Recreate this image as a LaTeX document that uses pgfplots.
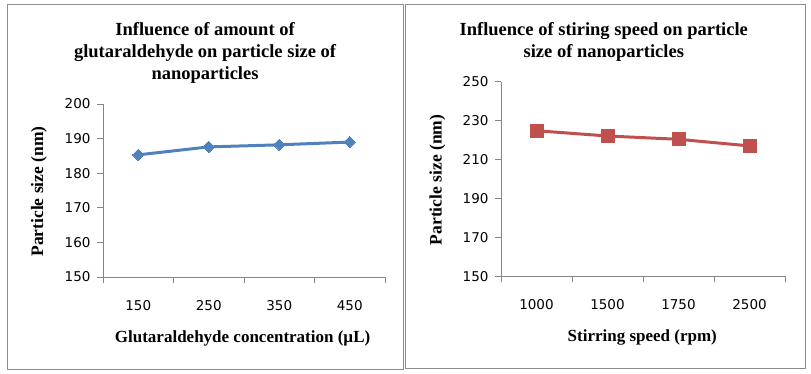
\documentclass[border=0pt]{standalone}
\usepackage{pgfplots}
\pgfplotsset{compat=1.18}
\usepackage{fontspec}
\setmainfont{Liberation Serif}
\newfontfamily\tickfont{DejaVu Sans}
\definecolor{axgray}{HTML}{868686}
\definecolor{frgray}{HTML}{8C8C8C}
\definecolor{sblue}{HTML}{4F81BD}
\definecolor{sred}{HTML}{C0504D}
\pgfplotsset{
  panel/.style={
    scale only axis,
    axis lines=left,
    axis line style={axgray, line width=0.8pt, -},
    xmin=0.5, xmax=4.5,
    xtick={1,2,3,4},
    major x tick style={draw=none},
    minor xtick={0.5,1.5,2.5,3.5,4.5},
    minor x tick style={axgray, line width=0.8pt},
    minor tick length=6pt,
    ytick style={axgray, line width=0.8pt},
    major tick length=6pt,
    tick align=outside,
    xtick pos=bottom, ytick pos=left,
    ticklabel style={font=\tickfont\fontsize{13.5}{15}\selectfont, text=black},
    /pgf/number format/assume math mode=true,
    yticklabel style={xshift=-3pt},
    xticklabel style={yshift=-14pt},
    title style={font=\bfseries\fontsize{18.5}{22}\selectfont, align=center, inner sep=0pt, anchor=north},
    xlabel style={font=\bfseries\fontsize{17}{19}\selectfont, inner sep=0pt, anchor=center},
    ylabel style={font=\bfseries\fontsize{17.5}{19}\selectfont, inner sep=0pt, anchor=center},
  }
}
\begin{document}
\begin{tikzpicture}[x=1pt,y=1pt]
\useasboundingbox (0,0) rectangle (811,374);
\draw[frgray, line width=1pt] (7,4.5) rectangle (403.5,369);
\draw[frgray, line width=1pt] (405,5) rectangle (805,369.5);
% Left panel
\begin{axis}[panel,
  at={(103pt,97pt)}, anchor=south west,
  width=282pt, height=173pt,
  ymin=150, ymax=200, ytick={150,160,170,180,190,200},
  xticklabels={150,250,350,450},
  title={Influence of amount of\\glutaraldehyde on particle size of\\nanoparticles},
  title style={at={(axis description cs:0.362,1)}, yshift=76pt},
  xlabel={Glutaraldehyde concentration (µL)},
  xlabel style={at={(axis description cs:0.495,0)}, yshift=-61pt},
  ylabel={Particle size (nm)},
  ylabel style={at={(axis description cs:-0.227,0.494)}},
]
\addplot[sblue, line width=3pt, mark=square*, mark size=4pt, mark options={line width=0pt, rotate=45}]
  coordinates {(1,185.3) (2,187.6) (3,188.2) (4,189.0)};
\end{axis}
% Right panel
\begin{axis}[panel,
  at={(501pt,97.7pt)}, anchor=south west,
  width=284pt, height=194.6pt,
  ymin=150, ymax=250, ytick={150,170,190,210,230,250},
  xticklabels={1000,1500,1750,2500},
  title={Influence of stiring speed on particle\\size of nanoparticles},
  title style={at={(axis description cs:0.362,1)}, yshift=53.7pt},
  xlabel={Stirring speed (rpm)},
  xlabel style={at={(axis description cs:0.4975,0)}, yshift=-61.4pt},
  ylabel={Particle size (nm)},
  ylabel style={at={(axis description cs:-0.2243,0.495)}},
]
\addplot[sred, line width=3pt, mark=square*, mark size=6.5pt, mark options={line width=0pt}]
  coordinates {(1,224.8) (2,222.1) (3,220.4) (4,217.0)};
\end{axis}
\end{tikzpicture}
\end{document}
